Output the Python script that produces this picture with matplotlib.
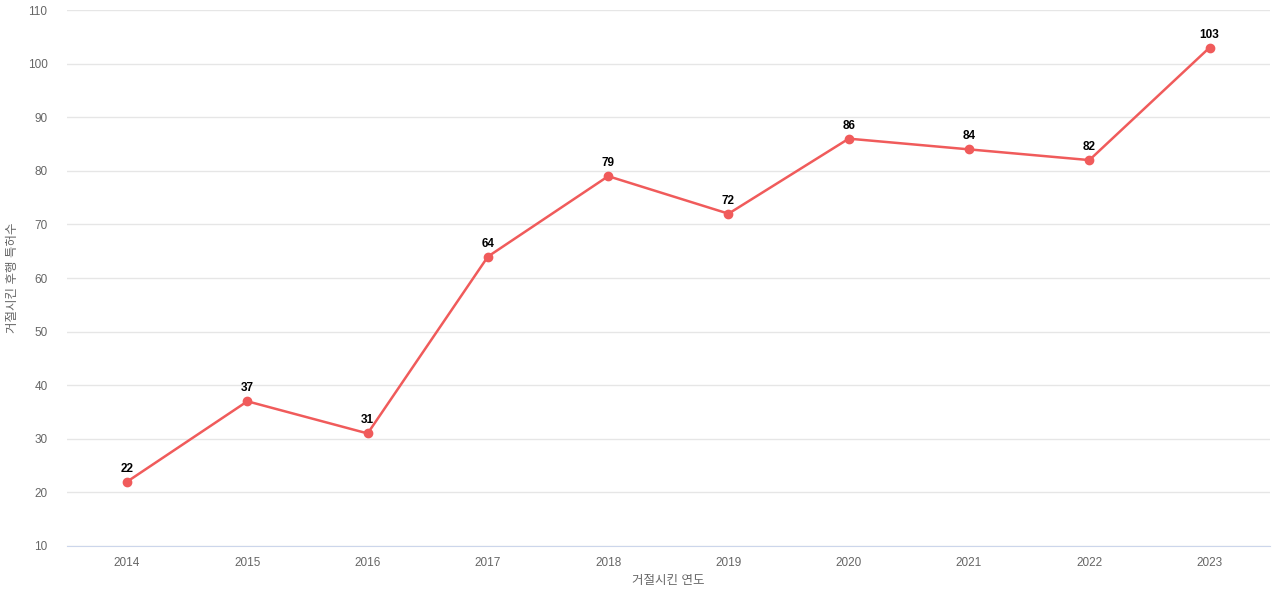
import matplotlib
matplotlib.use("Agg")
import matplotlib.pyplot as plt

years = ["2014","2015","2016","2017","2018","2019","2020","2021","2022","2023"]
values = [22, 37, 31, 64, 79, 72, 86, 84, 82, 103]
yticks = [10,20,30,40,50,60,70,80,90,100,110]

plt.rcParams['font.family'] = ['Liberation Sans', 'Noto Sans CJK KR', 'DejaVu Sans']
fig = plt.figure(figsize=(12.8, 6), dpi=100)
ax = fig.add_axes([0.0523, 0.09, 0.9397, 0.8933])
x = list(range(len(years)))
color = "#f05b5b"
ax.plot(x, values, color=color, lw=1.8, marker="o", ms=6, zorder=3)
for xi, v in zip(x, values):
    ax.annotate(str(v), (xi, v), xytext=(0, 5), textcoords="offset points",
                ha="center", va="bottom", fontsize=8.5, fontweight="bold", color="black")
ax.set_xlim(-0.5, len(years) - 0.5)
ax.set_ylim(10, 110)
ax.set_yticks(yticks)
ax.set_xticks(x)
ax.set_xticklabels(years)
ax.grid(axis="y", color="#e6e6e6", lw=1)
ax.set_axisbelow(True)
for s in ["top", "right", "left"]:
    ax.spines[s].set_visible(False)
ax.spines["bottom"].set_color("#ccd6eb")
ax.tick_params(axis="both", length=0, labelsize=8.5, labelcolor="#666666")
ax.tick_params(axis="x", pad=8)
ax.tick_params(axis="y", pad=14)
ax.set_xlabel("거절시킨 연도", fontsize=9, color="#666666", labelpad=4)
ax.set_ylabel("거절시킨 후행 특허수", fontsize=9, color="#666666", labelpad=6)
fig.savefig("out.png", dpi=100)
